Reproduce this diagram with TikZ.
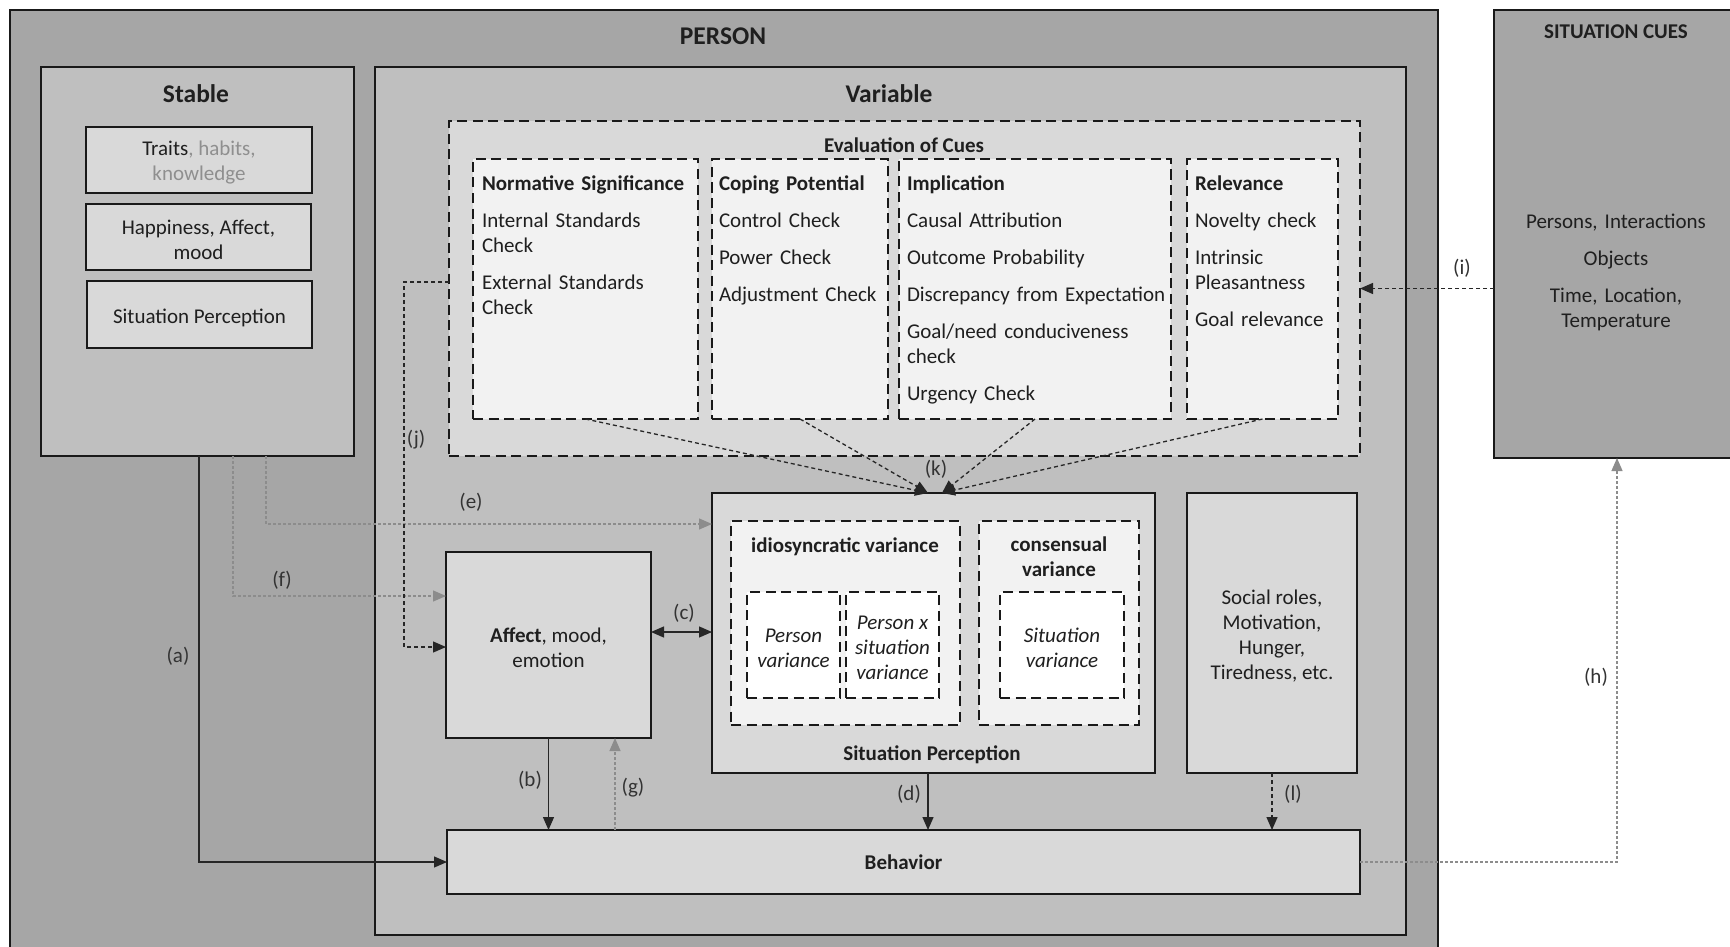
\documentclass[tikz,border=0pt]{standalone}
\usepackage{fontspec}
\setmainfont{Carlito}
\usetikzlibrary{arrows.meta}

\definecolor{outergray}{HTML}{A6A6A6}
\definecolor{midgray}{HTML}{BFBFBF}
\definecolor{lightgray}{HTML}{D9D9D9}
\definecolor{palegray}{HTML}{F2F2F2}
\definecolor{linkgray}{HTML}{8C8C8C}
\definecolor{softtext}{HTML}{8F8F8F}

\newcommand\bodyfont{\fontsize{21}{25}\selectfont}
\newcommand\titlefont{\fontsize{25.5}{30}\selectfont\bfseries}

% \rectbox{name}{style}{x1}{y1}{x2}{y2}: box node given by its corners
\newcommand\rectbox[6]{%
  \node[#2, anchor=north west, minimum width={#5pt-#3pt}, minimum height={#6pt-#4pt}] (#1) at (#3,#4) {};}

\tikzset{
  x=1pt, y=-1pt,
  every node/.style={inner sep=0pt, outer sep=0pt, font=\bodyfont, text=black!88},
  tx/.style={yshift=-3pt},
  ttl/.style={font=\titlefont, yshift=-1pt},
  bold/.style={font=\bodyfont\bfseries},
  bld/.style={bold, tx},
  itl/.style={font=\bodyfont\itshape, align=center, tx},
  ctr/.style={align=center, tx},
  solidbox/.style={draw=black!90, line width=2.6pt},
  dashbox/.style={draw=black!90, line width=2.6pt, dash pattern=on 10pt off 5.5pt},
  tip/.style={-{Triangle[length=13pt,width=11pt]}},
  conn/.style={draw=black!85, line width=1.3pt, tip},
  dconn/.style={conn, dash pattern=on 4pt off 3pt},
  gconn/.style={draw=linkgray, line width=1.2pt, dash pattern=on 3pt off 2pt, tip},
  lbl/.style={font=\bodyfont, text=black!80, yshift=-1.5pt},
  cuelist/.style={anchor=base west, align=left, text width=#1},
}

\begin{document}
\begin{tikzpicture}
\clip (0,0) rectangle (1730,947);
\fill[white] (0,0) rectangle (1730,947);

% ---------- person frame ----------
\rectbox{person}{solidbox, fill=outergray}{10}{10}{1438}{990}
\node[ttl] (personT) at (723,35) {PERSON};

% ---------- stable part ----------
\rectbox{stable}{solidbox, fill=midgray}{41}{67}{354}{456}
\node[ttl] (stableT) at (196,93) {Stable};
\rectbox{traits}{solidbox, fill=lightgray}{86}{127}{312}{193}
\node[ctr] (traitsT) at (traits) {Traits\textcolor{softtext}{, habits,}\\\textcolor{softtext}{knowledge}};
\rectbox{happy}{solidbox, fill=lightgray}{86}{204}{311}{270}
\node[ctr] (happyT) at (happy) {Happiness, Affect,\\mood};
\rectbox{stperc}{solidbox, fill=lightgray}{87}{281}{312}{348}
\node[ctr] (stpercT) at (stperc) {Situation Perception};

% ---------- variable part ----------
\rectbox{variable}{solidbox, fill=midgray}{375}{67}{1406}{935}
\node[ttl] (variableT) at (889,93) {Variable};

% evaluation of cues
\rectbox{eval}{dashbox, fill=lightgray}{449}{121}{1360}{456}
\node[bold] (evalT) at (904,145) {Evaluation of Cues};
\rectbox{norm}{dashbox, fill=palegray}{473}{159}{698}{419}
\rectbox{coping}{dashbox, fill=palegray}{712}{159}{888}{419}
\rectbox{impl}{dashbox, fill=palegray}{899}{159}{1171}{419}
\rectbox{relev}{dashbox, fill=palegray}{1187}{159}{1338}{419}
\node[cuelist=210pt] (normL) at (482,190.5)
  {\textbf{Normative Significance}\\[12pt]Internal Standards\\Check\\[12pt]External Standards\\Check};
\node[cuelist=165pt] (copingL) at (719,190.5)
  {\textbf{Coping Potential}\\[12pt]Control Check\\[12pt]Power Check\\[12pt]Adjustment Check};
\node[cuelist=265pt] (implL) at (907,190.5)
  {\textbf{Implication}\\[12pt]Causal Attribution\\[12pt]Outcome Probability\\[12pt]Discrepancy from Expectation\\[12pt]Goal/need conduciveness\\check\\[12pt]Urgency Check};
\node[cuelist=140pt] (relevL) at (1195,190.5)
  {\textbf{Relevance}\\[12pt]Novelty check\\[12pt]Intrinsic\\Pleasantness\\[12pt]Goal relevance};

% situation perception
\rectbox{sitp}{solidbox, fill=lightgray}{712}{493}{1155}{773}
\node[bld] (sitpT) at (932,752) {Situation Perception};
\rectbox{idio}{dashbox, fill=palegray}{731}{521}{960}{725}
\node[bld] (idioT) at (845,544) {idiosyncratic variance};
\rectbox{pv}{dashbox, fill=white}{747}{592}{840}{698}
\node[itl] (pvT) at (pv) {Person\\variance};
\rectbox{psv}{dashbox, fill=white}{846}{592}{939}{698}
\node[itl] (psvT) at (psv) {Person x\\situation\\variance};
\rectbox{cons}{dashbox, fill=palegray}{979}{521}{1139}{725}
\node[bold, align=center] (consT) at (1059,556.5) {consensual\\variance};
\rectbox{sv}{dashbox, fill=white}{1000}{592}{1124}{698}
\node[itl] (svT) at (sv) {Situation\\variance};

% other variable states
\rectbox{social}{solidbox, fill=lightgray}{1187}{493}{1357}{773}
\node[ctr] (socialT) at (social) {Social roles,\\Motivation,\\Hunger,\\Tiredness, etc.};
\rectbox{affect}{solidbox, fill=lightgray}{446}{552}{651}{738}
\node[ctr] (affectT) at (affect) {\textbf{Affect}, mood,\\emotion};
\rectbox{behavior}{solidbox, fill=lightgray}{447}{830}{1360}{894}
\node[bold] (behaviorT) at (behavior) {Behavior};

% ---------- situation cues ----------
\rectbox{cues}{solidbox, fill=outergray}{1494}{10}{1740}{458}
\node[bold] (cuesT) at (1616,32) {SITUATION CUES};
\node[anchor=base, align=center, text width=240pt] (cuesL) at (1616,228.5)
  {Persons, Interactions\\[12pt]Objects\\[12pt]Time, Location,\\Temperature};

% ---------- connectors ----------
% (a) stable -> behavior
\draw[conn] ([xshift=1.5pt]stable.south) |- (behavior.west);
% (f) stable -> affect
\draw[gconn] ([xshift=35.5pt]stable.south) |- ([yshift=49pt]affect.west);
% (e) stable -> situation perception
\draw[gconn] ([xshift=68.5pt]stable.south) |- ([yshift=109pt]sitp.west);
% (j) evaluation -> affect
\draw[dconn] ([yshift=6.5pt]eval.west) -- ++(-45,0) |- ([yshift=-2pt]affect.west);
% (c) affect <-> situation perception
\coordinate (cL) at ([yshift=13pt]affect.east);
\draw[conn, {Triangle[length=13pt,width=11pt]}-{Triangle[length=13pt,width=11pt]}] (cL) -- (cL -| sitp.west);
% (b) affect -> behavior
\draw[conn] (affect.south) -- (affect.south |- behavior.north);
% (g) behavior -> affect
\coordinate (gX) at ([xshift=66.5pt]affect.south);
\draw[gconn] (gX |- behavior.north) -- (gX);
% (d) situation perception -> behavior
\coordinate (dX) at ([xshift=-5.5pt]sitp.south);
\draw[conn] (dX) -- (dX |- behavior.north);
% (l) social roles -> behavior
\draw[dconn] (social.south) -- (social.south |- behavior.north);
% (h) behavior -> situation cues
\draw[gconn] (behavior.east) -| (cues.south);
% (i) situation cues -> evaluation
\draw[dconn] (eval.east -| cues.west) -- (eval.east);
% (k) evaluation checks -> situation perception
\draw[dconn] (norm.south) -- ([xshift=-5.5pt]sitp.north);
\draw[dconn] (coping.south) -- ([xshift=-5.5pt]sitp.north);
\draw[dconn] (impl.south) -- ([xshift=8.5pt]sitp.north);
\draw[dconn] (relev.south) -- ([xshift=8.5pt]sitp.north);

% ---------- connector labels ----------
\node[lbl] (la) at (178,655) {(a)};
\node[lbl] (lb) at (530,779) {(b)};
\node[lbl] (lc) at (684,612) {(c)};
\node[lbl] (ld) at (909,793) {(d)};
\node[lbl] (le) at (471,501) {(e)};
\node[lbl] (lf) at (282,579) {(f)};
\node[lbl] (lg) at (633,786) {(g)};
\node[lbl] (lh) at (1596,676) {(h)};
\node[lbl] (li) at (1462,267) {(i)};
\node[lbl] (lj) at (416,438) {(j)};
\node[lbl] (lk) at (936,468) {(k)};
\node[lbl] (ll) at (1293,793) {(l)};
\end{tikzpicture}
\end{document}
